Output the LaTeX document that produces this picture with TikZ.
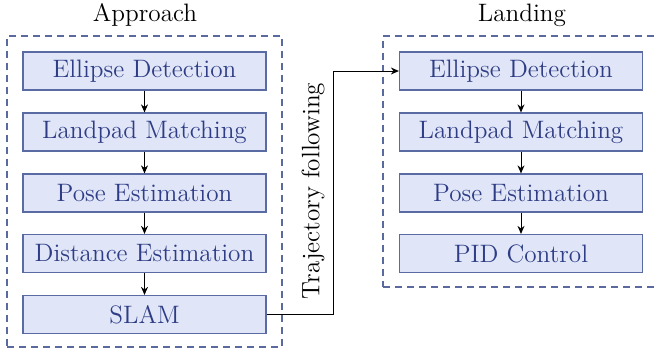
\documentclass[tikz,border=0pt]{standalone}
\usetikzlibrary{arrows.meta}
\definecolor{boxfill}{HTML}{E0E6F8}
\definecolor{boxdraw}{HTML}{5A6AA2}
\definecolor{boxtext}{HTML}{2E3D85}
\definecolor{dashcol}{HTML}{5A6A9E}
\begin{document}
\begin{tikzpicture}[x=0.5pt,y=-0.5pt,
  stagebox/.style={draw=boxdraw,fill=boxfill,text=boxtext,line width=0.6pt,minimum width=121.5pt,minimum height=19pt,inner sep=0pt,font=\fontsize{12.6}{14}\selectfont},
  groupbox/.style={draw=dashcol,line width=0.6pt,dash pattern=on 3.5pt off 2.5pt},
  title/.style={font=\fontsize{12.6}{14}\selectfont},
  flow/.style={-{Stealth[length=4pt,width=3.5pt]},line width=0.5pt}]
\useasboundingbox (0,0) rectangle (655,349);
\clip (0,0) rectangle (655,349);
% groups
\node[groupbox,minimum width=137.5pt,minimum height=155.5pt,inner sep=0pt] (g1) at (144.5,191.5) {};
\node[groupbox,minimum width=140pt,minimum height=125.5pt,inner sep=0pt] (g2) at (523,161.5) {};
\node[title] (t1) at (145,15) {Approach};
\node[title] (t2) at (522,15) {Landing};
% left column
\node[stagebox] (a1) at (144.5,71) {Ellipse Detection};
\node[stagebox] (a2) at (144.5,132) {Landpad Matching};
\node[stagebox] (a3) at (144.5,193) {Pose Estimation};
\node[stagebox] (a4) at (144.5,253.5) {Distance Estimation};
\node[stagebox] (a5) at (144.5,314.5) {SLAM};
% right column
\node[stagebox] (b1) at (521,71) {Ellipse Detection};
\node[stagebox] (b2) at (521,132) {Landpad Matching};
\node[stagebox] (b3) at (521,193) {Pose Estimation};
\node[stagebox] (b4) at (521,253.5) {PID Control};
% arrows
\draw[flow] (a1) -- (a2);
\draw[flow] (a2) -- (a3);
\draw[flow] (a3) -- (a4);
\draw[flow] (a4) -- (a5);
\draw[flow] (b1) -- (b2);
\draw[flow] (b2) -- (b3);
\draw[flow] (b3) -- (b4);
\coordinate (c1) at (333,314.5);
\coordinate (c2) at (333,71);
\draw[flow] (a5.east) -- (c1) -- (c2) -- (b1.west);
\node[title,rotate=90] (traj) at (313,191) {Trajectory following};
\end{tikzpicture}
\end{document}
